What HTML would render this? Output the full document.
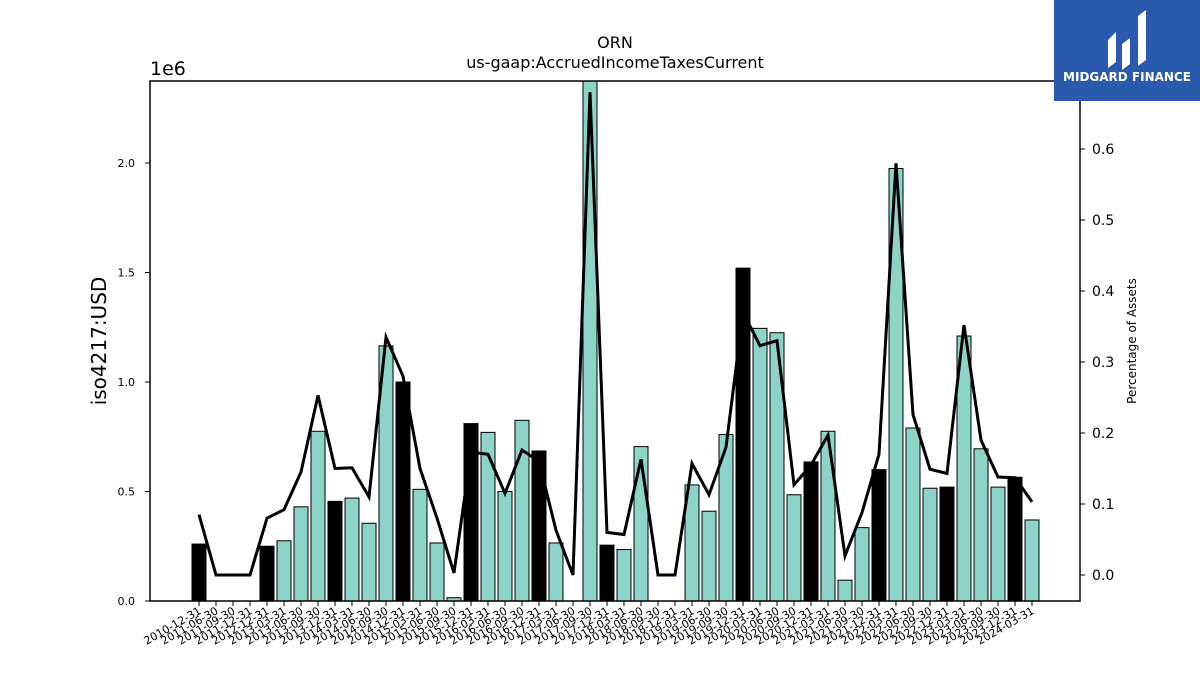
<!DOCTYPE html>
<html><head><meta charset="utf-8"><style>
body{margin:0;background:#fff;font-family:"Liberation Sans","DejaVu Sans",sans-serif}
</style></head><body>
<svg id="c" width="1200" height="675" xmlns="http://www.w3.org/2000/svg" font-family="DejaVu Sans, Liberation Sans, sans-serif">
<text x="615" y="48" text-anchor="middle" font-size="16">ORN</text>
<text x="615" y="68" text-anchor="middle" font-size="16">us-gaap:AccruedIncomeTaxesCurrent</text>
<text x="150" y="75" font-size="19">1e6</text>
<text transform="translate(106,341) rotate(-90)" text-anchor="middle" font-size="20">iso4217:USD</text>
<text transform="translate(1136,341) rotate(-90)" text-anchor="middle" font-size="12">Percentage of Assets</text>
<g id="bars"></g><g id="ax"></g>
<polyline id="line" fill="none" stroke="#000" stroke-width="3"/>
<rect x="150" y="81" width="930" height="520" fill="none" stroke="#000" stroke-width="1.5"/>
<g>
<rect x="1054" y="0" width="146" height="101" fill="#2a5aad"/>
<path d="M1108 68 L1108 40 L1116 32 L1116 62 Z M1122 70 L1122 44 L1130 38 L1130 64 Z M1138 66 L1138 16 L1146 10 L1146 60 Z" fill="#fff"/>
<text x="1127" y="81" text-anchor="middle" font-size="12" font-weight="bold" fill="#fff">MIDGARD FINANCE</text>
</g>
</svg>
<script>
const dates=["2010-12-31","2011-06-30","2011-09-30","2011-12-31","2012-12-31","2013-03-31","2013-06-30","2013-09-30","2013-12-31","2014-03-31","2014-06-30","2014-09-30","2014-12-31","2015-03-31","2015-06-30","2015-09-30","2015-12-31","2016-03-31","2016-06-30","2016-09-30","2016-12-31","2017-03-31","2017-06-30","2017-09-30","2017-12-31","2018-03-31","2018-06-30","2018-09-30","2018-12-31","2019-03-31","2019-06-30","2019-09-30","2019-12-31","2020-03-31","2020-06-30","2020-09-30","2020-12-31","2021-03-31","2021-06-30","2021-09-30","2021-12-31","2022-03-31","2022-06-30","2022-09-30","2022-12-31","2023-03-31","2023-06-30","2023-09-30","2023-12-31","2024-03-31"];
const values=[0.26,0,0,0,0.25,0.275,0.43,0.775,0.455,0.47,0.355,1.165,1.0,0.51,0.265,0.015,0.81,0.77,0.5,0.825,0.685,0.265,0,2.45,0.255,0.235,0.705,0,0,0.53,0.41,0.76,1.52,1.245,1.225,0.485,0.635,0.775,0.095,0.335,0.6,1.975,0.79,0.515,0.52,1.21,0.695,0.52,0.565,0.37];
const pct=[0.085,0,0,0,0.08,0.092,0.145,0.253,0.15,0.151,0.11,0.335,0.28,0.15,0.08,0.003,0.173,0.17,0.115,0.176,0.16,0.063,0,0.68,0.06,0.057,0.163,0,0,0.157,0.113,0.18,0.37,0.323,0.33,0.127,0.155,0.197,0.027,0.088,0.17,0.58,0.226,0.149,0.143,0.352,0.19,0.138,0.137,0.103];
const annual=[0,4,8,12,16,20,24,28,32,36,40,44,48];
const yTicks=[0,0.5,1.0,1.5,2.0];
const y2Ticks=[0.0,0.1,0.2,0.3,0.4,0.5,0.6];
const NS="http://www.w3.org/2000/svg";
const X=i=>199+i*17;
const Y=v=>601-v*219;
const Y2=v=>575-v*710;
function mk(t,a,p){const e=document.createElementNS(NS,t);for(const k in a)e.setAttribute(k,a[k]);p.appendChild(e);return e;}
const bars=document.getElementById('bars'),ax=document.getElementById('ax');
values.forEach((v,i)=>{if(v<=0)return;const top=Math.max(Y(v),81);
const r=mk('rect',{x:X(i)-7,y:top,width:14,height:601-top,fill:annual.includes(i)?'#000':'#8dd3c7',stroke:'#000','stroke-width':1},bars);

});
dates.forEach((d,i)=>{mk('line',{x1:X(i),x2:X(i),y1:601,y2:606,stroke:'#000'},ax);
const t=mk('text',{transform:`translate(${X(i)+3},${613}) rotate(-30)`,'text-anchor':'end','font-size':11},ax);t.textContent=d;

});
yTicks.forEach(v=>{mk('line',{x1:145,x2:150,y1:Y(v),y2:Y(v),stroke:'#000'},ax);
const t=mk('text',{x:135,y:Y(v)+4,'text-anchor':'end','font-size':11},ax);t.textContent=v.toFixed(1);

});
y2Ticks.forEach(v=>{mk('line',{x1:1080,x2:1085,y1:Y2(v),y2:Y2(v),stroke:'#000'},ax);
const t=mk('text',{x:1092,y:Y2(v)+5,'font-size':14},ax);t.textContent=v.toFixed(1);

});
document.getElementById('line').setAttribute('points',pct.map((v,i)=>X(i)+','+Math.max(Y2(v),81)).join(' '));
</script>
</body></html>
